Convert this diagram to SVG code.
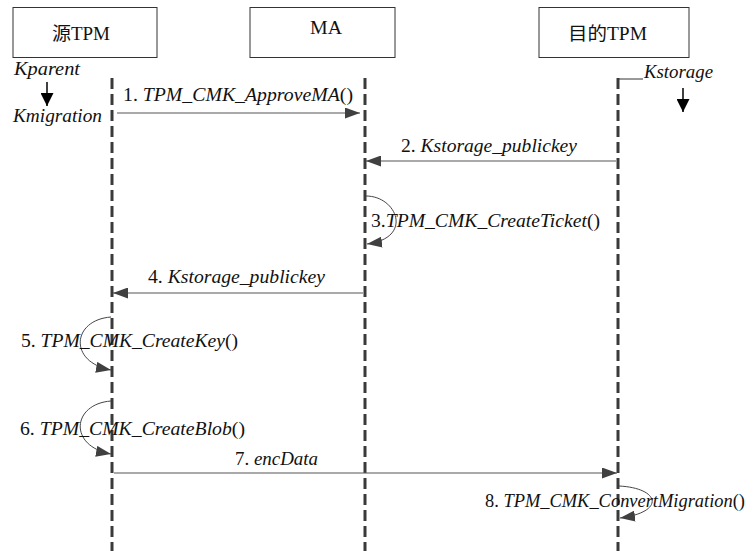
<svg xmlns="http://www.w3.org/2000/svg" width="753" height="551" viewBox="0 0 753 551">
<defs>
<style>
.box{fill:#fff;stroke:#333;stroke-width:1}
.t{font-family:"Liberation Serif","Times New Roman","DejaVu Serif","Noto Sans CJK SC",serif;font-size:18px;fill:#111}
.i{font-style:italic}
.life{stroke:#3a3a3a;stroke-width:3;stroke-dasharray:11 5;fill:none}
.msg{stroke:#555;stroke-width:1.2;fill:none;marker-end:url(#ah)}
.self{stroke:#444;stroke-width:1;fill:none;marker-end:url(#ah)}
.k{stroke:#000;stroke-width:1.5;fill:none;marker-end:url(#kh)}
</style>
<marker id="ah" viewBox="0 0 15 11" refX="15" refY="5.5" markerWidth="15" markerHeight="11" markerUnits="userSpaceOnUse" orient="auto">
<path d="M0,0 L15,5.5 L0,11 z" fill="#404040"/>
</marker>
<marker id="kh" viewBox="0 0 13 13" refX="13" refY="6.5" markerWidth="13" markerHeight="13" markerUnits="userSpaceOnUse" orient="auto">
<path d="M0,0 L13,6.5 L0,13 z" fill="#000"/>
</marker>
</defs>
<rect width="753" height="551" fill="#fff"/>

<g id="node-src">
<rect class="box" x="13" y="7.5" width="144" height="50"/>
<text class="t" x="52" y="40" textLength="58" lengthAdjust="spacingAndGlyphs">源TPM</text>
<text class="t i" x="14" y="75" textLength="66" lengthAdjust="spacingAndGlyphs">Kparent</text>
<line class="k" x1="47" y1="82" x2="47" y2="106"/>
<text class="t i" x="13" y="122" textLength="89" lengthAdjust="spacingAndGlyphs">Kmigration</text>
<line class="life" x1="112" y1="78" x2="112" y2="551"/>
</g>

<g id="node-ma">
<rect class="box" x="250" y="7.5" width="145" height="50"/>
<text class="t" x="310" y="34" textLength="32" lengthAdjust="spacingAndGlyphs">MA</text>
<line class="life" x1="365" y1="78" x2="365" y2="551"/>
</g>

<g id="node-dst">
<rect class="box" x="539" y="7.5" width="150" height="50"/>
<text class="t" x="568" y="40" textLength="79" lengthAdjust="spacingAndGlyphs">目的TPM</text>
<line x1="618" y1="79" x2="643" y2="79" stroke="#333" stroke-width="1"/>
<text class="t i" x="644" y="78" textLength="69" lengthAdjust="spacingAndGlyphs">Kstorage</text>
<line class="k" x1="683" y1="88" x2="683" y2="112"/>
<line class="life" x1="618" y1="78" x2="618" y2="551"/>
</g>

<g id="connectors">
<line class="msg" x1="117" y1="113" x2="360" y2="113"/>
<text class="t" x="123" y="101" textLength="230" lengthAdjust="spacingAndGlyphs">1. <tspan class="i">TPM_CMK_ApproveMA</tspan>()</text>

<line class="msg" x1="616" y1="161" x2="366" y2="161"/>
<text class="t" x="401" y="152" textLength="176" lengthAdjust="spacingAndGlyphs">2. <tspan class="i">Kstorage_publickey</tspan></text>

<path class="self" d="M366,196 C397,196 414,238 367,244"/>
<text class="t" x="371" y="227" textLength="229" lengthAdjust="spacingAndGlyphs">3.<tspan class="i">TPM_CMK_CreateTicket</tspan>()</text>

<line class="msg" x1="363" y1="293" x2="113" y2="293"/>
<text class="t" x="148" y="283" textLength="177" lengthAdjust="spacingAndGlyphs">4. <tspan class="i">Kstorage_publickey</tspan></text>

<path class="self" d="M111,317 C72,320 68,362 111,370"/>
<text class="t" x="21" y="347" textLength="217" lengthAdjust="spacingAndGlyphs">5. <tspan class="i">TPM_CMK_CreateKey</tspan>()</text>

<path class="self" d="M111,401 C72,404 68,446 111,454"/>
<text class="t" x="20" y="435" textLength="225" lengthAdjust="spacingAndGlyphs">6. <tspan class="i">TPM_CMK_CreateBlob</tspan>()</text>

<line class="msg" x1="114" y1="473" x2="617" y2="473"/>
<text class="t" x="235" y="465" textLength="83" lengthAdjust="spacingAndGlyphs">7. <tspan class="i">encData</tspan></text>

<path class="self" d="M619,486 C660,488 666,512 620,518"/>
<text class="t" x="485" y="507" textLength="260" lengthAdjust="spacingAndGlyphs">8. <tspan class="i">TPM_CMK_ConvertMigration</tspan>()</text>
</g>
</svg>
